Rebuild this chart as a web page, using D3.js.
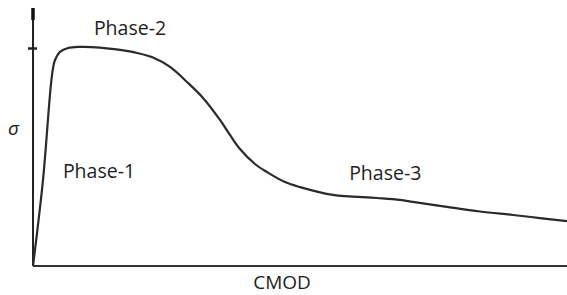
<!DOCTYPE html>
<html>
<head>
<meta charset="utf-8">
<script src="https://cdn.jsdelivr.net/npm/d3@7"></script>
<style>
  body { margin: 0; background: #fff; }
  text { font-family: "Open Sans", sans-serif; fill: #1e1e1e; }
</style>
</head>
<body>
<div id="wrapper"></div>
<script>
// CMOD (percent of axis) and stress (percent of peak tick)
const cmod = [0, 1.87, 3.56, 4.12, 5.06, 6.55, 8.8, 12.55, 16.29, 19.48, 22.47, 25.66,
  28.84, 31.84, 35.02, 36.89, 38.76, 41.57, 43.82, 47.19, 50.0, 56.18, 64.42, 68.73,
  71.16, 77.53, 83.71, 89.89, 94.94, 100]
const sigma = [0, 39.4, 87.6, 94.5, 98.2, 100, 100.5, 100.2, 99.1, 97.7, 95.6, 91.3,
  84.4, 77.1, 67.0, 60.1, 53.7, 46.8, 43.1, 38.5, 36.2, 32.6, 31.2, 30.3,
  29.4, 27.1, 25.0, 23.4, 22.0, 20.6]
const phaseLabels = ["Phase-1", "Phase-2", "Phase-3"]
const phaseX = [5.6, 11.4, 59.2]
const phaseY = [40.5, 106, 39.5]
const peakTick = [100]

const dataset = cmod.map((c, i) => ({ cmod: c, sigma: sigma[i] }))
const xAccessor = d => d.cmod
const yAccessor = d => d.sigma

let dimensions = {
  width: 567,
  height: 295,
  margin: { top: 8, right: 0, bottom: 29, left: 33 },
}
dimensions.boundedWidth = dimensions.width - dimensions.margin.left - dimensions.margin.right
dimensions.boundedHeight = dimensions.height - dimensions.margin.top - dimensions.margin.bottom

const wrapper = d3.select("#wrapper")
  .append("svg")
    .attr("width", dimensions.width)
    .attr("height", dimensions.height)

const bounds = wrapper.append("g")
  .attr("transform", `translate(${dimensions.margin.left},${dimensions.margin.top})`)

const xScaler = d3.scaleLinear()
  .domain([0, 100])
  .range([0, dimensions.boundedWidth])

// 0 at axis, 100 at the tick
const yScaler = d3.scaleLinear()
  .domain([0, 100])
  .range([dimensions.boundedHeight, 40])

// axes
const yAxisGen = d3.axisLeft(yScaler).tickValues(peakTick).tickSize(5).tickFormat("")
const yAxis = bounds.append("g").call(yAxisGen)
yAxis.select(".domain").remove()
yAxis.selectAll(".tick line").attr("x2", 4).attr("x1", -5)
  .attr("stroke", "#222").attr("stroke-width", 2.5)

bounds.append("line")
  .attr("x1", 0).attr("x2", 0)
  .attr("y1", 0).attr("y2", dimensions.boundedHeight)
  .attr("stroke", "#222").attr("stroke-width", 2)
bounds.append("line")
  .attr("x1", 0).attr("x2", 0)
  .attr("y1", 0).attr("y2", 12)
  .attr("stroke", "#111").attr("stroke-width", 3.5)

bounds.append("line")
  .attr("x1", 0).attr("x2", dimensions.boundedWidth)
  .attr("y1", dimensions.boundedHeight).attr("y2", dimensions.boundedHeight)
  .attr("stroke", "#333").attr("stroke-width", 2)

// curve
const lineGen = d3.line()
  .x(d => xScaler(xAccessor(d)))
  .y(d => yScaler(yAccessor(d)))
  .curve(d3.curveCatmullRom.alpha(0.5))

bounds.append("path")
  .attr("d", lineGen(dataset))
  .attr("fill", "none")
  .attr("stroke", "#2a2a2a")
  .attr("stroke-width", 2.2)

// labels
bounds.selectAll(".phase")
  .data(phaseLabels)
  .enter()
  .append("text")
    .attr("class", "phase")
    .attr("x", (d, i) => xScaler(phaseX[i]))
    .attr("y", (d, i) => yScaler(phaseY[i]))
    .text(d => d)
    .attr("font-size", "19.5px")

wrapper.append("text")
  .attr("x", 8)
  .attr("y", 135)
  .text("σ")
  .attr("font-size", "19px")
  .attr("font-style", "italic")

wrapper.append("text")
  .attr("x", 282)
  .attr("y", 289)
  .text("CMOD")
  .attr("font-size", "19px")
  .attr("text-anchor", "middle")
</script>
</body>
</html>
